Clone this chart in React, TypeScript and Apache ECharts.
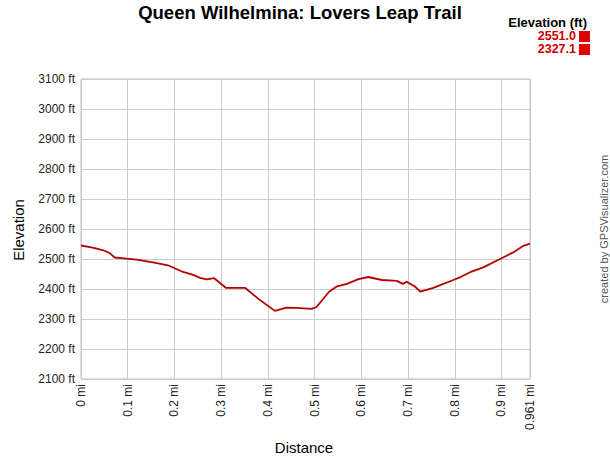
import React, { useEffect, useRef } from "react";
import * as echarts from "echarts";

const distances = [0.0, 0.025, 0.048, 0.062, 0.072, 0.098, 0.119, 0.154, 0.186, 0.215, 0.24, 0.255, 0.269, 0.285, 0.31, 0.351, 0.383, 0.415, 0.44, 0.461, 0.494, 0.504, 0.531, 0.548, 0.554, 0.569, 0.594, 0.615, 0.644, 0.676, 0.689, 0.697, 0.715, 0.726, 0.754, 0.797, 0.811, 0.833, 0.861, 0.897, 0.925, 0.947, 0.961];
const elevations = [2545, 2538, 2529, 2519, 2505, 2501, 2498, 2489, 2479, 2459, 2447, 2437, 2432, 2436, 2404, 2404, 2363, 2327.1, 2338, 2337, 2334, 2340, 2391, 2409, 2411, 2417, 2433, 2440, 2430, 2427, 2417, 2424, 2408, 2391, 2404, 2430, 2439, 2456, 2472, 2500, 2522, 2544, 2551.0];
const legendTitle = "Elevation (ft)";
const legendValues = ["2551.0", "2327.1"];
const chartTitle = "Queen Wilhelmina: Lovers Leap Trail";

const FONT = "'Liberation Sans', Arial, sans-serif";

export default function App() {
  const ref = useRef<HTMLDivElement>(null);
  useEffect(() => {
    if (!ref.current) return;
    const chart = echarts.init(ref.current, null, { renderer: "svg" });
    const data = distances.map((d, i) => [d, elevations[i]]);
    chart.setOption({
      animation: false,
      backgroundColor: "#fff",
      textStyle: { fontFamily: FONT },
      grid: {
        left: 81,
        right: 80,
        top: 79,
        bottom: 81,
        show: true,
        borderColor: "#bbb",
        borderWidth: 1,
      },
      xAxis: {
        type: "value",
        min: 0,
        max: 0.961,
        interval: 0.1,
        axisLine: { show: false },
        axisTick: { show: false },
        splitLine: { show: true, lineStyle: { color: "#ccc", width: 1 } },
        axisLabel: {
          rotate: 90,
          margin: 5,
          fontSize: 12,
          color: "#222",
          fontFamily: FONT,
          showMaxLabel: true,
          showMinLabel: true,
          hideOverlap: false,
          formatter: (v: number) => `${Math.round(v * 1000) / 1000} mi`,
        },
      },
      yAxis: {
        type: "value",
        min: 2100,
        max: 3100,
        interval: 100,
        axisLine: { show: false },
        axisTick: { show: false },
        splitLine: { show: true, lineStyle: { color: "#ccc", width: 1 } },
        axisLabel: {
          margin: 6,
          fontSize: 12,
          color: "#222",
          fontFamily: FONT,
          formatter: (v: number) => `${v} ft`,
        },
      },
      series: [
        {
          type: "line",
          data,
          showSymbol: false,
          symbol: "none",
          lineStyle: { color: "#b40000", width: 1.8 },
        },
      ],
      graphic: [
        {
          type: "text",
          x: 300,
          y: 3,
          style: { text: chartTitle, font: `bold 18.5px ${FONT}`, fill: "#000", align: "center", verticalAlign: "top" },
        },
        {
          type: "text",
          x: 587,
          y: 16,
          style: { text: legendTitle, font: `bold 13px ${FONT}`, fill: "#000", align: "right", verticalAlign: "top", lineHeight: 12 },
        },
        ...legendValues.flatMap((v, i) => [
          {
            type: "text",
            x: 576,
            y: 30 + i * 13,
            style: { text: v, font: `bold 12.5px ${FONT}`, fill: "#cc0000", align: "right", verticalAlign: "top", lineHeight: 12 },
          },
          {
            type: "rect",
            shape: { x: 579, y: 31 + i * 13, width: 11, height: 11 },
            style: { fill: "#e00000" },
          },
        ]),
        {
          type: "text",
          x: 18,
          y: 230,
          rotation: Math.PI / 2,
          style: { text: "Elevation", font: `15px ${FONT}`, fill: "#000", align: "center", verticalAlign: "middle" },
        },
        {
          type: "text",
          x: 304,
          y: 447,
          style: { text: "Distance", font: `15px ${FONT}`, fill: "#000", align: "center", verticalAlign: "middle" },
        },
        {
          type: "text",
          x: 604,
          y: 229,
          rotation: Math.PI / 2,
          style: { text: "created by GPSVisualizer.com", font: `11px ${FONT}`, fill: "#555", align: "center", verticalAlign: "middle" },
        },
      ],
    });
    return () => chart.dispose();
  }, []);
  return <div ref={ref} style={{ position: "absolute", left: 0, top: 0, width: 610, height: 460 }} />;
}
